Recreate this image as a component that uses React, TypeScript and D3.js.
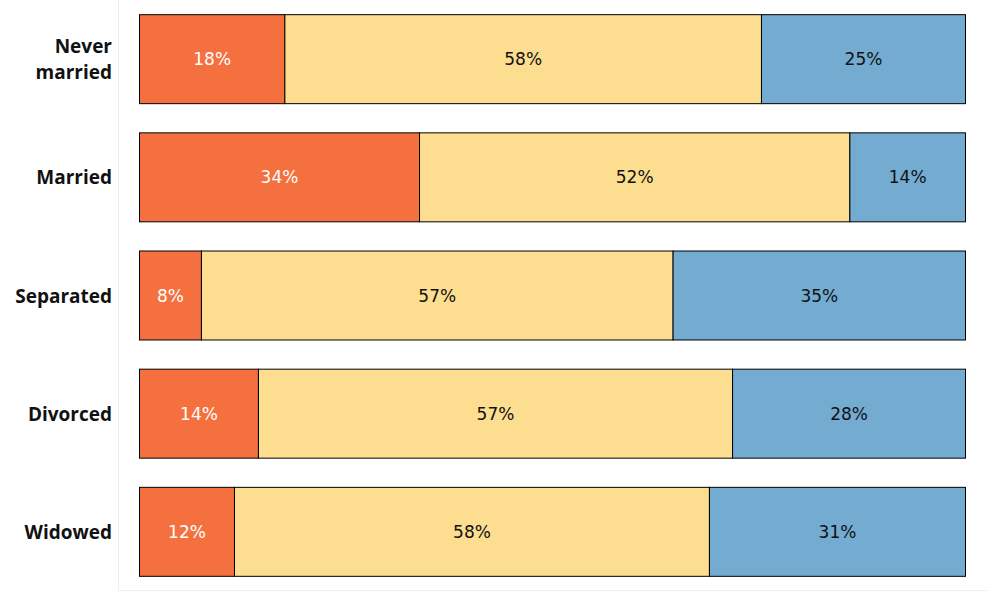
import React from "react";
import * as d3 from "d3";

const categories = ["Never married", "Married", "Separated", "Divorced", "Widowed"];
const seriesKeys = ["low", "mid", "high"];
const lowValues = [17.6, 33.9, 7.5, 14.4, 11.5];
const midValues = [57.7, 52.1, 57.1, 57.4, 57.5];
const highValues = [24.7, 14.0, 35.4, 28.2, 31.0];
const colors = ["#f4703f", "#fddd8f", "#74abd1"];
const textColors = ["#ffffff", "#111111", "#111111"];

const W = 998;
const H = 595;

export default function App() {
  const rows = categories.map((c, i) => ({ cat: c, low: lowValues[i], mid: midValues[i], high: highValues[i] }));
  const stack = d3.stack<any>().keys(seriesKeys);
  const series = stack(rows);
  const x = d3.scaleLinear().domain([0, 100]).range([139, 965]);
  const y = d3.scaleBand().domain(categories).range([0, 590]).paddingInner(0.247).paddingOuter(0.12);
  const font = "'Open Sans', 'Noto Sans', sans-serif";
  const valFont = "'DejaVu Sans', sans-serif";
  return (
    <svg width={W} height={H} style={{ position: "absolute", left: 0, top: 0 }}>
      <rect x={0} y={0} width={W} height={H} fill="#fff" />
      <line x1={118.5} x2={118.5} y1={0} y2={590.5} stroke="#eeeeee" />
      <line x1={118.5} x2={987} y1={590.5} y2={590.5} stroke="#eeeeee" />
      {series.map((s, si) => (
        <g key={s.key}>
          {s.map((d, i) => {
            const cat = categories[i];
            const x0 = x(d[0]);
            const x1 = x(d[1]);
            const yy = y(cat)!;
            const val = (d[1] - d[0]);
            return (
              <g key={cat}>
                <rect x={x0 + 0.5} y={yy + 0.5} width={x1 - x0} height={y.bandwidth()} fill={colors[si]} stroke="#000" strokeWidth={1} />
                <text x={(x0 + x1) / 2 + 0.5} y={yy + y.bandwidth() / 2 + 0.5} textAnchor="middle" dominantBaseline="central" fontFamily={valFont} fontSize={17} fill={textColors[si]}>
                  {Math.round(val) + "%"}
                </text>
              </g>
            );
          })}
        </g>
      ))}
      {categories.map((c) => {
        const yc = y(c)! + y.bandwidth() / 2;
        const parts = c === "Never married" ? ["Never", "married"] : [c];
        return (
          <text key={c} x={112} textAnchor="end" fontFamily={font} fontWeight="bold" fontSize={19} fill="#111">
            {parts.map((p, k) => (
              <tspan key={k} x={112} y={yc + (k - (parts.length - 1) / 2) * 26 + 0.5} dominantBaseline="central">{p}</tspan>
            ))}
          </text>
        );
      })}
    </svg>
  );
}
